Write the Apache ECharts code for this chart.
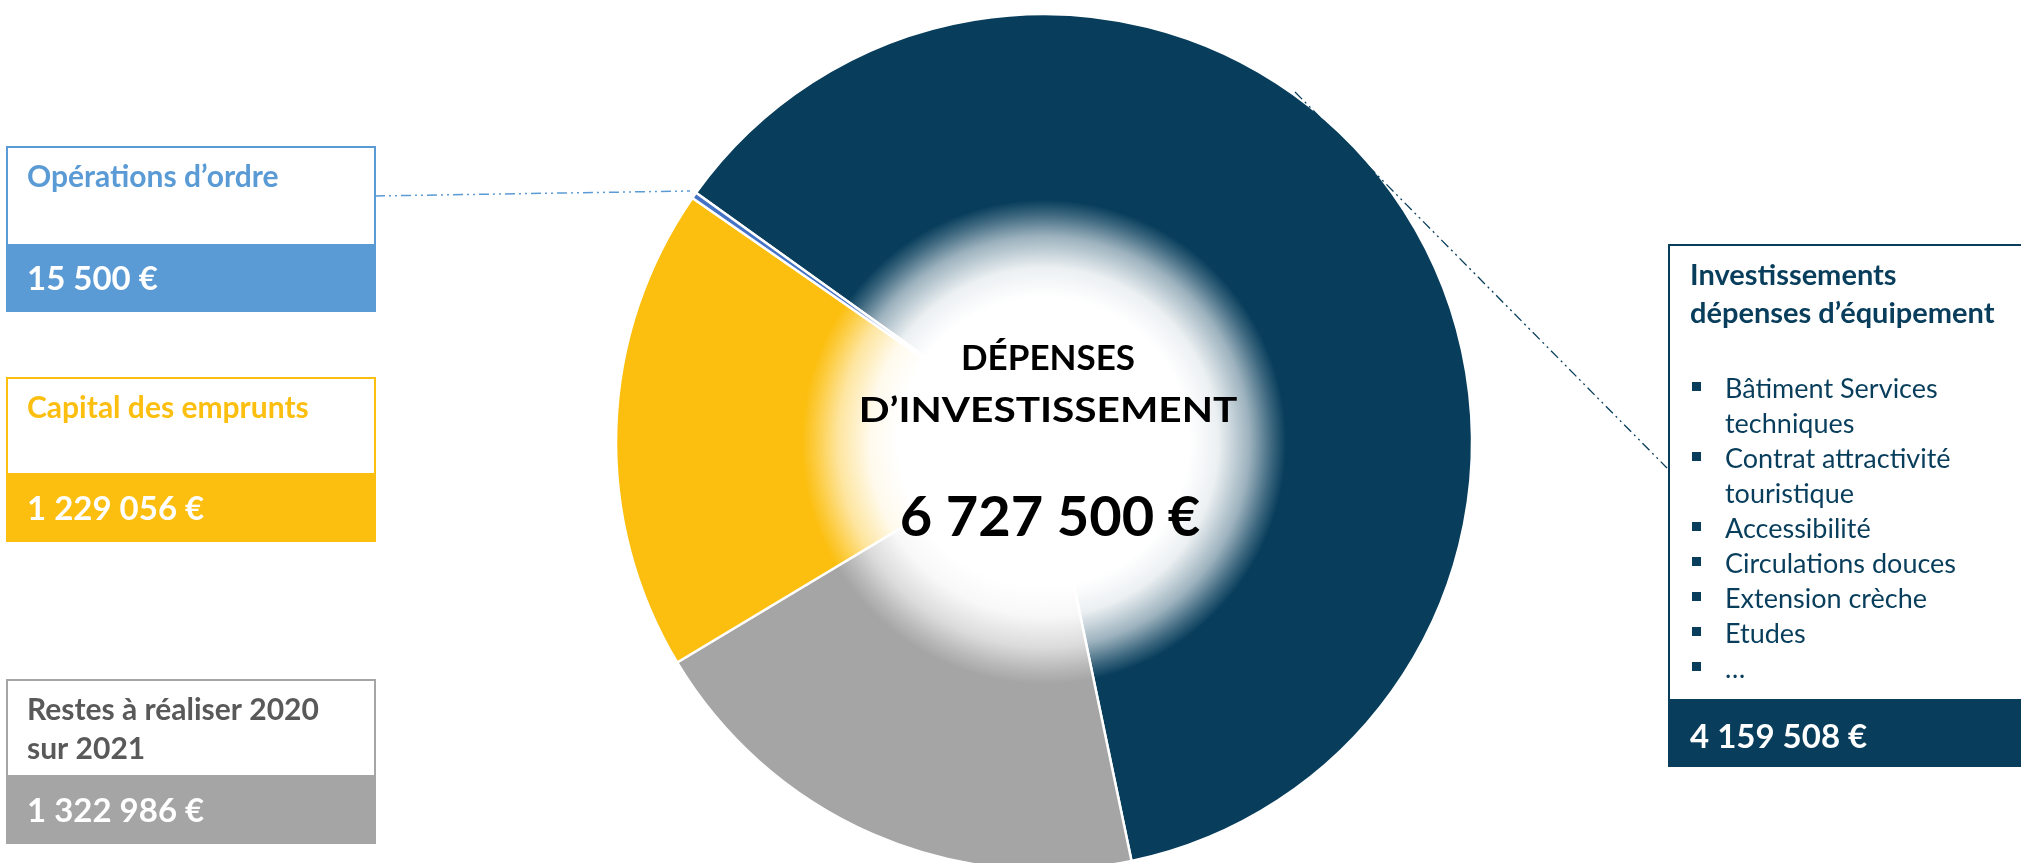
<!DOCTYPE html>
<html>
<head>
<meta charset="utf-8">
<script src="https://cdn.jsdelivr.net/npm/echarts@6/dist/echarts.min.js"></script>
<style>
html,body{margin:0;padding:0;background:#fff;}
#chart{width:2021px;height:863px;}
</style>
</head>
<body>
<div id="chart"></div>
<script>
// ---- data ----
const categories = [
  "Investissements dépenses d’équipement",
  "Restes à réaliser 2020 sur 2021",
  "Capital des emprunts",
  "Opérations d’ordre"
];
const values = [4159508, 1322986, 1229056, 15500];
const centerTitle = ["DÉPENSES", "D’INVESTISSEMENT"];
const totalAmount = 6727500;
const equipmentItems = [
  ["Bâtiment Services", "techniques"],
  ["Contrat attractivité", "touristique"],
  ["Accessibilité"],
  ["Circulations douces"],
  ["Extension crèche"],
  ["Etudes"],
  ["…"]
];

// ---- styles ----
const sliceColors = ['#083E5C', '#A5A5A5', '#FCBF10', '#4472C4'];
const boxColors   = ['#083E5C', '#A5A5A5', '#FCBF10', '#5B9BD5'];
const titleColors = ['#083E5C', '#595959', '#FCBF10', '#5B9BD5'];
const FONT = 'Lato, "Open Sans", sans-serif';

function euro(n){
  return String(n).replace(/\B(?=(\d{3})+(?!\d))/g, ' ') + ' €';
}
const measureCtx = document.createElement('canvas').getContext('2d');
function wrap(text, font, maxW){
  measureCtx.font = font;
  const words = text.split(' ');
  const lines = [];
  let cur = '';
  words.forEach(w => {
    const t = cur ? cur + ' ' + w : w;
    if (cur && measureCtx.measureText(t).width > maxW) { lines.push(cur); cur = w; }
    else cur = t;
  });
  if (cur) lines.push(cur);
  return lines.join('\n');
}

const chart = echarts.init(document.getElementById('chart'), null, {renderer:'canvas'});

const graphic = [];

// left boxes: index in data, box geometry
const leftBoxes = [
  {i:3, top:147, split:245, bottom:312},
  {i:2, top:378, split:474, bottom:542},
  {i:1, top:680, split:776, bottom:844}
];
const leftTitleFont = 'bold 30px ' + FONT;
leftBoxes.forEach(b => {
  const c = boxColors[b.i];
  graphic.push({type:'rect', z:100, shape:{x:7, y:b.top, width:368, height:b.split-b.top},
    style:{fill:'#fff', stroke:c, lineWidth:2}});
  graphic.push({type:'rect', z:100, shape:{x:6, y:b.split, width:370, height:b.bottom-b.split},
    style:{fill:c}});
  graphic.push({type:'text', z:101, style:{
    text: wrap(categories[b.i], leftTitleFont, 320), x:27, y:b.top + 11, lineHeight:39,
    font:leftTitleFont, fill:titleColors[b.i], textAlign:'left', textVerticalAlign:'top'}});
  graphic.push({type:'text', z:101, style:{
    text: euro(values[b.i]), x:27, y:(b.split+b.bottom)/2 + 1,
    font:'bold 33px ' + FONT, fill:'#fff', textAlign:'left', textVerticalAlign:'middle'}});
});

// right box
(function(){
  const c = boxColors[0];
  const tf = 'bold 29px ' + FONT;
  graphic.push({type:'rect', z:100, shape:{x:1669, y:245, width:400, height:455},
    style:{fill:'#fff', stroke:c, lineWidth:2}});
  graphic.push({type:'rect', z:100, shape:{x:1668, y:700, width:400, height:67},
    style:{fill:c}});
  graphic.push({type:'text', z:101, style:{
    text: wrap(categories[0], tf, 325), x:1690, y:257, lineHeight:38,
    font:tf, fill:titleColors[0], textAlign:'left', textVerticalAlign:'top'}});
  let line = 0;
  equipmentItems.forEach(item => {
    const yc = 388 + line*35;
    graphic.push({type:'rect', z:101, shape:{x:1692, y:yc-6, width:9, height:9}, style:{fill:c}});
    item.forEach((t,k) => {
      graphic.push({type:'text', z:101, style:{
        text:t, x:1725, y:yc + k*35 + 1, font:'27px ' + FONT, fill:c,
        textAlign:'left', textVerticalAlign:'middle'}});
    });
    line += item.length;
  });
  graphic.push({type:'text', z:101, style:{
    text: euro(values[0]), x:1690, y:737,
    font:'bold 33px ' + FONT, fill:'#fff', textAlign:'left', textVerticalAlign:'middle'}});
})();

// leader lines
graphic.push({type:'line', z:99, shape:{x1:375, y1:196, x2:690, y2:191},
  style:{stroke:'#5B9BD5', lineWidth:1.5, lineDash:[10,4,2,4,2,4]}});
graphic.push({type:'line', z:99, shape:{x1:1295, y1:92, x2:1667, y2:468},
  style:{stroke:'#083E5C', lineWidth:1.3, lineDash:[10,4,2,4,2,4]}});

// center text
graphic.push({type:'text', z:110, style:{text:centerTitle[0], x:1048, y:359,
  font:'bold 35px ' + FONT, fill:'#000', textAlign:'center', textVerticalAlign:'middle'}});
graphic.push({type:'text', z:110, x:1048, y:411, scaleX:1.16, style:{text:centerTitle[1], x:0, y:0,
  font:'bold 35px ' + FONT, fill:'#000', textAlign:'center', textVerticalAlign:'middle'}});
graphic.push({type:'text', z:110, style:{text:euro(totalAmount), x:1050, y:518,
  font:'bold 56px ' + FONT, fill:'#000', textAlign:'center', textVerticalAlign:'middle'}});

const option = {
  animation:false,
  series:[
    {
      type:'pie', silent:true, center:[1044,442], radius:[0,428],
      startAngle:144.4, clockwise:true, avoidLabelOverlap:false,
      label:{show:false}, labelLine:{show:false}, emphasis:{disabled:true},
      itemStyle:{borderColor:'#fff', borderWidth:2.5},
      data: categories.map((name,i)=>({name, value:values[i], itemStyle:{color:sliceColors[i]}}))
    },
    {
      type:'pie', silent:true, center:[1044,442], radius:[0,242], z:3,
      label:{show:false}, labelLine:{show:false}, emphasis:{disabled:true},
      data:[{name:'glow', value:1, itemStyle:{color:{type:'radial', x:0.5, y:0.5, r:0.5, colorStops:[
        {offset:0, color:'rgba(255,255,255,1)'},
        {offset:0.6, color:'rgba(255,255,255,1)'},
        {offset:0.72, color:'rgba(255,255,255,0.92)'},
        {offset:0.85, color:'rgba(255,255,255,0.6)'},
        {offset:0.94, color:'rgba(255,255,255,0.22)'},
        {offset:1, color:'rgba(255,255,255,0)'}
      ]}}}]
    }
  ],
  graphic: graphic
};
chart.setOption(option);
</script>
</body>
</html>
